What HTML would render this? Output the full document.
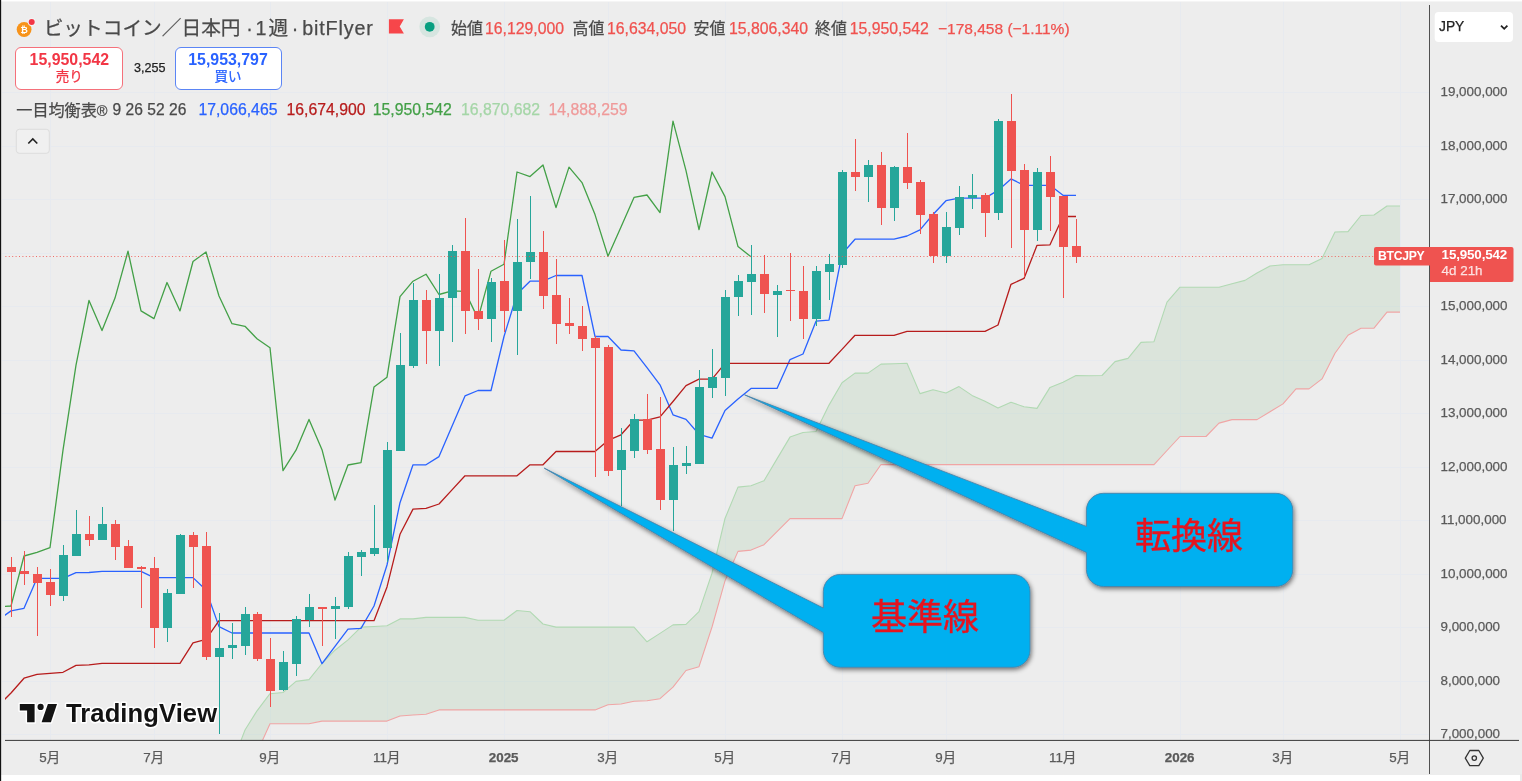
<!DOCTYPE html>
<html lang="ja"><head><meta charset="utf-8"><title>BTCJPY 一目均衡表</title>
<style>
html,body{margin:0;padding:0;background:#fff;}
#rs{position:absolute;left:1519.7px;top:774px;width:3px;height:8px;background:#e9e9e9;}
body{width:1522px;height:781px;position:relative;overflow:hidden;font-family:"Liberation Sans","Noto Sans CJK JP",sans-serif;}
#bg{position:absolute;left:0;top:1px;width:1522px;height:773.8px;background:#ededed;border-top:1px solid #f5f5f5;box-sizing:border-box;}
#lb{display:none}
svg{position:absolute;left:0;top:0;}
.t{position:absolute;white-space:nowrap;-webkit-text-stroke:0.25px currentColor;}
.box{position:absolute;border:1px solid;border-radius:6px;background:#fff;}
</style></head><body>
<div id="bg"></div><div id="rs"></div>
<svg width="1522" height="781" viewBox="0 0 1522 781">
<line x1="50.5" y1="2" x2="50.5" y2="740.4" stroke="#e7eaef" stroke-width="1"/>
<line x1="154.5" y1="2" x2="154.5" y2="740.4" stroke="#e7eaef" stroke-width="1"/>
<line x1="270.5" y1="2" x2="270.5" y2="740.4" stroke="#e7eaef" stroke-width="1"/>
<line x1="387.5" y1="2" x2="387.5" y2="740.4" stroke="#e7eaef" stroke-width="1"/>
<line x1="504.5" y1="2" x2="504.5" y2="740.4" stroke="#e7eaef" stroke-width="1"/>
<line x1="608.5" y1="2" x2="608.5" y2="740.4" stroke="#e7eaef" stroke-width="1"/>
<line x1="725.5" y1="2" x2="725.5" y2="740.4" stroke="#e7eaef" stroke-width="1"/>
<line x1="842.5" y1="2" x2="842.5" y2="740.4" stroke="#e7eaef" stroke-width="1"/>
<line x1="946.5" y1="2" x2="946.5" y2="740.4" stroke="#e7eaef" stroke-width="1"/>
<line x1="1063.5" y1="2" x2="1063.5" y2="740.4" stroke="#e7eaef" stroke-width="1"/>
<line x1="1180.5" y1="2" x2="1180.5" y2="740.4" stroke="#e7eaef" stroke-width="1"/>
<line x1="1283.5" y1="2" x2="1283.5" y2="740.4" stroke="#e7eaef" stroke-width="1"/>
<line x1="1400.5" y1="2" x2="1400.5" y2="740.4" stroke="#e7eaef" stroke-width="1"/>
<line x1="2" y1="92.5" x2="1429.5" y2="92.5" stroke="#e7eaef" stroke-width="1"/>
<line x1="2" y1="146.5" x2="1429.5" y2="146.5" stroke="#e7eaef" stroke-width="1"/>
<line x1="2" y1="199.5" x2="1429.5" y2="199.5" stroke="#e7eaef" stroke-width="1"/>
<line x1="2" y1="253.5" x2="1429.5" y2="253.5" stroke="#e7eaef" stroke-width="1"/>
<line x1="2" y1="306.5" x2="1429.5" y2="306.5" stroke="#e7eaef" stroke-width="1"/>
<line x1="2" y1="360.5" x2="1429.5" y2="360.5" stroke="#e7eaef" stroke-width="1"/>
<line x1="2" y1="413.5" x2="1429.5" y2="413.5" stroke="#e7eaef" stroke-width="1"/>
<line x1="2" y1="467.5" x2="1429.5" y2="467.5" stroke="#e7eaef" stroke-width="1"/>
<line x1="2" y1="520.5" x2="1429.5" y2="520.5" stroke="#e7eaef" stroke-width="1"/>
<line x1="2" y1="574.5" x2="1429.5" y2="574.5" stroke="#e7eaef" stroke-width="1"/>
<line x1="2" y1="627.5" x2="1429.5" y2="627.5" stroke="#e7eaef" stroke-width="1"/>
<line x1="2" y1="681.5" x2="1429.5" y2="681.5" stroke="#e7eaef" stroke-width="1"/>
<line x1="2" y1="734.5" x2="1429.5" y2="734.5" stroke="#e7eaef" stroke-width="1"/>
<clipPath id="pane"><rect x="5" y="2" width="1424.5" height="738.4"/></clipPath>
<g clip-path="url(#pane)">
<polygon points="232,764 245,730 257,710.8 270,693.7 283,692.5 296,681.4 309,679.6 322,663.5 335,650.2 348,639.9 361,627.1 374,626.5 387,625.8 400,618.9 413,618.9 426,617.4 439,617.4 452,617.4 465,617.4 478,620.2 491,620.2 504,620.2 517,610.5 530,611.7 543,624 556,627.1 569,627.1 582,627.1 595,627.1 608,627.1 621,627.1 634,627.1 647,641.8 660,633.4 673,624.9 686,624.4 699,611.6 712,573.2 725,518.5 738,487.1 751,485.8 764,480.7 777,458.9 790,437.1 803,432.5 816,431.5 829,405.1 842,382.8 855,373.1 868,373.1 881,364.1 894,363.7 907,363.3 920,393.6 933,389.7 946,393 959,386.6 972,395.4 985,401.3 998,408.1 1011,402.2 1024,406.8 1037,408.4 1050,387.4 1063,382.2 1076,375.5 1089,375.7 1102,375.5 1115,361.6 1128,358.4 1141,342.4 1154,341.7 1167,302.1 1180,287.2 1193,287.2 1206,287.2 1219,287.2 1232,283.7 1245,280.4 1257,273 1270,266 1283,264.8 1296,264.8 1309,264.8 1322,258.4 1335,232 1348,231.6 1361,215.5 1374,215 1387,206 1400,206 1400,312.1 1387,312.1 1374,328.2 1361,328.2 1348,335.2 1335,353.2 1322,378.9 1309,388.9 1296,388.9 1283,403.9 1270,411.7 1257,419.6 1245,419.6 1232,419.6 1219,423.1 1206,436.5 1193,436.5 1180,436.5 1167,450.5 1154,464.6 1141,464.6 1128,464.6 1115,464.6 1102,464.6 1089,464.6 1076,464.6 1063,464.6 1050,464.6 1037,464.6 1024,464.6 1011,464.6 998,464.6 985,464.6 972,464.6 959,464.6 946,464.6 933,464.6 920,464.6 907,464.6 894,464.6 881,464.5 868,483.2 855,485.8 842,518.6 829,518.6 816,518.6 803,518.6 790,518.6 777,531.6 764,544.7 751,550.1 738,551.4 725,580.9 712,627 699,666.7 686,670.5 673,687.2 660,698.7 647,700.8 634,701.3 621,704 608,704.8 595,709.9 582,709.9 569,709.9 556,709.9 543,709.9 530,709.9 517,709.9 504,709.9 491,709.9 478,709.9 465,709.9 452,709.9 439,709.9 426,714.2 413,715 400,716 387,721.1 374,721.1 361,721.1 348,721.1 335,721.1 322,721.1 309,723.7 296,723.7 283,723.7 270,723.7 257,752.6 245,781 232,810" fill="#43a047" fill-opacity="0.10"/>
<polyline points="232,764 245,730 257,710.8 270,693.7 283,692.5 296,681.4 309,679.6 322,663.5 335,650.2 348,639.9 361,627.1 374,626.5 387,625.8 400,618.9 413,618.9 426,617.4 439,617.4 452,617.4 465,617.4 478,620.2 491,620.2 504,620.2 517,610.5 530,611.7 543,624 556,627.1 569,627.1 582,627.1 595,627.1 608,627.1 621,627.1 634,627.1 647,641.8 660,633.4 673,624.9 686,624.4 699,611.6 712,573.2 725,518.5 738,487.1 751,485.8 764,480.7 777,458.9 790,437.1 803,432.5 816,431.5 829,405.1 842,382.8 855,373.1 868,373.1 881,364.1 894,363.7 907,363.3 920,393.6 933,389.7 946,393 959,386.6 972,395.4 985,401.3 998,408.1 1011,402.2 1024,406.8 1037,408.4 1050,387.4 1063,382.2 1076,375.5 1089,375.7 1102,375.5 1115,361.6 1128,358.4 1141,342.4 1154,341.7 1167,302.1 1180,287.2 1193,287.2 1206,287.2 1219,287.2 1232,283.7 1245,280.4 1257,273 1270,266 1283,264.8 1296,264.8 1309,264.8 1322,258.4 1335,232 1348,231.6 1361,215.5 1374,215 1387,206 1400,206" fill="none" stroke="#b1d9b3" stroke-width="1.1" stroke-linejoin="round"/>
<polyline points="232,810 245,781 257,752.6 270,723.7 283,723.7 296,723.7 309,723.7 322,721.1 335,721.1 348,721.1 361,721.1 374,721.1 387,721.1 400,716 413,715 426,714.2 439,709.9 452,709.9 465,709.9 478,709.9 491,709.9 504,709.9 517,709.9 530,709.9 543,709.9 556,709.9 569,709.9 582,709.9 595,709.9 608,704.8 621,704 634,701.3 647,700.8 660,698.7 673,687.2 686,670.5 699,666.7 712,627 725,580.9 738,551.4 751,550.1 764,544.7 777,531.6 790,518.6 803,518.6 816,518.6 829,518.6 842,518.6 855,485.8 868,483.2 881,464.5 894,464.6 907,464.6 920,464.6 933,464.6 946,464.6 959,464.6 972,464.6 985,464.6 998,464.6 1011,464.6 1024,464.6 1037,464.6 1050,464.6 1063,464.6 1076,464.6 1089,464.6 1102,464.6 1115,464.6 1128,464.6 1141,464.6 1154,464.6 1167,450.5 1180,436.5 1193,436.5 1206,436.5 1219,423.1 1232,419.6 1245,419.6 1257,419.6 1270,411.7 1283,403.9 1296,388.9 1309,388.9 1322,378.9 1335,353.2 1348,335.2 1361,328.2 1374,328.2 1387,312.1 1400,312.1" fill="none" stroke="#f0a5a5" stroke-width="1.1" stroke-linejoin="round"/>
<polyline points="-2,606.6 11,606 24,556 37,552.3 50,547.7 63,450.2 76,365.1 89,300.4 102,330.6 115,298.1 128,251.2 141,310.9 154,318.6 167,282.5 180,310.9 193,261.5 206,252 219,296 232,323.7 245,326.3 257,338.8 270,347.7 283,470.7 296,450.2 309,419.4 322,449.7 335,500.1 348,465 361,462.6 374,386.9 387,377.2 400,296.6 413,281.2 426,274.2 439,294.5 452,290.8 465,291.4 478,318.6 491,271.2 504,264.3 517,172 530,176.6 543,165 556,207.6 569,167.1 582,182.6 595,214.6 608,256.2 621,227.1 634,197.4 647,195 660,212.6 673,121.2 686,170.7 699,229.6 712,172 725,196.6 738,246.6 751,256.8" fill="none" stroke="#43a047" stroke-width="1.3" stroke-linejoin="round"/>
<polyline points="-2,620 11,610.9 24,608.3 37,578.3 50,578.3 63,578.3 76,572.7 89,572.5 102,571.4 115,571.4 128,571.4 141,571.4 154,577.6 167,577.6 180,577.6 193,577.6 206,590 219,626.6 232,633 245,633 257,633 270,633 283,633 296,633 309,633 322,663.7 335,646.3 348,629.1 361,628.4 374,606 387,565 400,502.7 413,464.8 426,464.8 439,456.6 452,426.3 465,395.9 478,390.5 491,390.5 504,336.5 517,294 530,281.2 543,281.2 556,275.5 569,275.5 582,275.5 595,336.5 608,336.5 621,350 634,350.8 647,367.7 660,384.8 673,414.8 686,419.4 699,434.3 712,438.1 725,410.5 738,398.9 751,388.4 764,388.4 777,388.4 790,359.6 803,354 816,321.2 829,320.2 842,254 855,239.2 868,239.2 881,239.2 894,239.2 907,236 920,229.9 933,214.5 946,200.7 959,198.1 972,198.1 985,198.1 998,190.4 1011,178.9 1024,185.3 1037,185.3 1050,185.3 1063,195.3 1076,195.3" fill="none" stroke="#2962ff" stroke-width="1.3" stroke-linejoin="round"/>
<polyline points="-2,706 11,693 24,678.2 37,674.4 50,673.3 63,672.3 76,665.4 89,664.9 102,663.4 115,663.4 128,663.4 141,663.4 154,663.4 167,663.4 180,663.4 193,642.8 206,639.4 219,620.7 232,620.7 245,620.7 257,620.7 270,620.7 283,620.7 296,620.7 309,620.7 322,620.7 335,620.7 348,620.7 361,620.7 374,620.7 387,586.9 400,534.3 413,509.1 426,508.3 439,504 452,489.9 465,475.8 478,475.8 491,475.8 504,475.8 517,475.8 530,464.8 543,464.8 556,451.5 569,451.5 582,451.5 595,451.5 608,440.4 621,434.8 634,420.2 647,420.2 660,416.9 673,401.5 686,385.6 699,379.2 712,379.2 725,363.3 738,363.3 751,363.3 764,363.3 777,363.3 790,363.3 803,363.3 816,363.3 829,363.3 842,349.4 855,335.3 868,335.3 881,335.3 894,335.3 907,331.4 920,331.4 933,331.4 946,331.4 959,331.4 972,331.4 985,331.4 998,325 1011,284.3 1024,278.4 1037,245.3 1050,244.8 1063,216.5 1076,216.5" fill="none" stroke="#b71c1c" stroke-width="1.3" stroke-linejoin="round"/>
<rect x="11" y="557" width="1" height="60" fill="#ef5350"/>
<rect x="7" y="567" width="9" height="5" fill="#ef5350"/>
<rect x="24" y="551" width="1" height="34" fill="#ef5350"/>
<rect x="20" y="571" width="9" height="3" fill="#ef5350"/>
<rect x="37" y="567" width="1" height="69" fill="#ef5350"/>
<rect x="33" y="574" width="9" height="9" fill="#ef5350"/>
<rect x="50" y="569" width="1" height="37" fill="#ef5350"/>
<rect x="46" y="582" width="9" height="13" fill="#ef5350"/>
<rect x="63" y="545" width="1" height="56" fill="#26a69a"/>
<rect x="59" y="555" width="9" height="41" fill="#26a69a"/>
<rect x="76" y="510" width="1" height="46" fill="#26a69a"/>
<rect x="72" y="534" width="9" height="22" fill="#26a69a"/>
<rect x="89" y="516" width="1" height="30" fill="#ef5350"/>
<rect x="85" y="534" width="9" height="6" fill="#ef5350"/>
<rect x="102" y="507" width="1" height="33" fill="#26a69a"/>
<rect x="98" y="524" width="9" height="16" fill="#26a69a"/>
<rect x="115" y="520" width="1" height="40" fill="#ef5350"/>
<rect x="111" y="524" width="9" height="23" fill="#ef5350"/>
<rect x="128" y="540" width="1" height="28" fill="#ef5350"/>
<rect x="124" y="546" width="9" height="22" fill="#ef5350"/>
<rect x="141" y="566" width="1" height="42" fill="#ef5350"/>
<rect x="137" y="567" width="9" height="2" fill="#ef5350"/>
<rect x="154" y="557" width="1" height="91" fill="#ef5350"/>
<rect x="150" y="568" width="9" height="60" fill="#ef5350"/>
<rect x="167" y="589" width="1" height="53" fill="#26a69a"/>
<rect x="163" y="593" width="9" height="35" fill="#26a69a"/>
<rect x="180" y="534" width="1" height="60" fill="#26a69a"/>
<rect x="176" y="535" width="9" height="59" fill="#26a69a"/>
<rect x="193" y="532" width="1" height="56" fill="#ef5350"/>
<rect x="189" y="535" width="9" height="12" fill="#ef5350"/>
<rect x="206" y="532" width="1" height="128" fill="#ef5350"/>
<rect x="202" y="546" width="9" height="111" fill="#ef5350"/>
<rect x="219" y="613" width="1" height="121" fill="#26a69a"/>
<rect x="215" y="648" width="9" height="9" fill="#26a69a"/>
<rect x="232" y="623" width="1" height="36" fill="#26a69a"/>
<rect x="228" y="645" width="9" height="3" fill="#26a69a"/>
<rect x="245" y="607" width="1" height="48" fill="#26a69a"/>
<rect x="241" y="614" width="9" height="32" fill="#26a69a"/>
<rect x="257" y="612" width="1" height="49" fill="#ef5350"/>
<rect x="253" y="614" width="9" height="45" fill="#ef5350"/>
<rect x="270" y="638" width="1" height="69" fill="#ef5350"/>
<rect x="266" y="659" width="9" height="32" fill="#ef5350"/>
<rect x="283" y="651" width="1" height="40" fill="#26a69a"/>
<rect x="279" y="662" width="9" height="28" fill="#26a69a"/>
<rect x="296" y="616" width="1" height="60" fill="#26a69a"/>
<rect x="292" y="619" width="9" height="45" fill="#26a69a"/>
<rect x="309" y="594" width="1" height="33" fill="#26a69a"/>
<rect x="305" y="607" width="9" height="13" fill="#26a69a"/>
<rect x="322" y="607" width="1" height="39" fill="#ef5350"/>
<rect x="318" y="607" width="9" height="2" fill="#ef5350"/>
<rect x="335" y="597" width="1" height="42" fill="#26a69a"/>
<rect x="331" y="606" width="9" height="3" fill="#26a69a"/>
<rect x="348" y="552" width="1" height="57" fill="#26a69a"/>
<rect x="344" y="556" width="9" height="51" fill="#26a69a"/>
<rect x="361" y="550" width="1" height="26" fill="#26a69a"/>
<rect x="357" y="552" width="9" height="5" fill="#26a69a"/>
<rect x="374" y="505" width="1" height="51" fill="#26a69a"/>
<rect x="370" y="548" width="9" height="6" fill="#26a69a"/>
<rect x="387" y="442" width="1" height="120" fill="#26a69a"/>
<rect x="383" y="450" width="9" height="98" fill="#26a69a"/>
<rect x="400" y="333" width="1" height="118" fill="#26a69a"/>
<rect x="396" y="365" width="9" height="86" fill="#26a69a"/>
<rect x="413" y="283" width="1" height="85" fill="#26a69a"/>
<rect x="409" y="300" width="9" height="66" fill="#26a69a"/>
<rect x="426" y="290" width="1" height="74" fill="#ef5350"/>
<rect x="422" y="300" width="9" height="31" fill="#ef5350"/>
<rect x="439" y="274" width="1" height="92" fill="#26a69a"/>
<rect x="435" y="298" width="9" height="33" fill="#26a69a"/>
<rect x="452" y="245" width="1" height="97" fill="#26a69a"/>
<rect x="448" y="251" width="9" height="47" fill="#26a69a"/>
<rect x="465" y="218" width="1" height="116" fill="#ef5350"/>
<rect x="461" y="251" width="9" height="60" fill="#ef5350"/>
<rect x="478" y="269" width="1" height="61" fill="#ef5350"/>
<rect x="474" y="311" width="9" height="8" fill="#ef5350"/>
<rect x="491" y="278" width="1" height="64" fill="#26a69a"/>
<rect x="487" y="282" width="9" height="37" fill="#26a69a"/>
<rect x="504" y="240" width="1" height="92" fill="#ef5350"/>
<rect x="500" y="281" width="9" height="30" fill="#ef5350"/>
<rect x="517" y="219" width="1" height="136" fill="#26a69a"/>
<rect x="513" y="262" width="9" height="49" fill="#26a69a"/>
<rect x="530" y="196" width="1" height="83" fill="#26a69a"/>
<rect x="526" y="252" width="9" height="10" fill="#26a69a"/>
<rect x="543" y="231" width="1" height="78" fill="#ef5350"/>
<rect x="539" y="252" width="9" height="44" fill="#ef5350"/>
<rect x="556" y="259" width="1" height="85" fill="#ef5350"/>
<rect x="552" y="295" width="9" height="29" fill="#ef5350"/>
<rect x="569" y="298" width="1" height="36" fill="#ef5350"/>
<rect x="565" y="323" width="9" height="3" fill="#ef5350"/>
<rect x="582" y="306" width="1" height="45" fill="#ef5350"/>
<rect x="578" y="326" width="9" height="13" fill="#ef5350"/>
<rect x="595" y="336" width="1" height="141" fill="#ef5350"/>
<rect x="591" y="338" width="9" height="10" fill="#ef5350"/>
<rect x="608" y="345" width="1" height="131" fill="#ef5350"/>
<rect x="604" y="347" width="9" height="124" fill="#ef5350"/>
<rect x="621" y="428" width="1" height="78" fill="#26a69a"/>
<rect x="617" y="450" width="9" height="20" fill="#26a69a"/>
<rect x="634" y="414" width="1" height="44" fill="#26a69a"/>
<rect x="630" y="419" width="9" height="32" fill="#26a69a"/>
<rect x="647" y="394" width="1" height="60" fill="#ef5350"/>
<rect x="643" y="419" width="9" height="31" fill="#ef5350"/>
<rect x="660" y="397" width="1" height="113" fill="#ef5350"/>
<rect x="656" y="449" width="9" height="51" fill="#ef5350"/>
<rect x="673" y="447" width="1" height="84" fill="#26a69a"/>
<rect x="669" y="465" width="9" height="35" fill="#26a69a"/>
<rect x="686" y="446" width="1" height="28" fill="#26a69a"/>
<rect x="682" y="463" width="9" height="3" fill="#26a69a"/>
<rect x="699" y="370" width="1" height="94" fill="#26a69a"/>
<rect x="695" y="387" width="9" height="77" fill="#26a69a"/>
<rect x="712" y="349" width="1" height="49" fill="#26a69a"/>
<rect x="708" y="377" width="9" height="11" fill="#26a69a"/>
<rect x="725" y="290" width="1" height="106" fill="#26a69a"/>
<rect x="721" y="297" width="9" height="81" fill="#26a69a"/>
<rect x="738" y="275" width="1" height="41" fill="#26a69a"/>
<rect x="734" y="281" width="9" height="16" fill="#26a69a"/>
<rect x="751" y="245" width="1" height="70" fill="#26a69a"/>
<rect x="747" y="274" width="9" height="8" fill="#26a69a"/>
<rect x="764" y="255" width="1" height="58" fill="#ef5350"/>
<rect x="760" y="274" width="9" height="20" fill="#ef5350"/>
<rect x="777" y="285" width="1" height="52" fill="#26a69a"/>
<rect x="773" y="291" width="9" height="4" fill="#26a69a"/>
<rect x="790" y="253" width="1" height="68" fill="#ef5350"/>
<rect x="786" y="290" width="9" height="1" fill="#ef5350"/>
<rect x="803" y="266" width="1" height="73" fill="#ef5350"/>
<rect x="799" y="291" width="9" height="28" fill="#ef5350"/>
<rect x="816" y="266" width="1" height="60" fill="#26a69a"/>
<rect x="812" y="271" width="9" height="48" fill="#26a69a"/>
<rect x="829" y="254" width="1" height="46" fill="#26a69a"/>
<rect x="825" y="264" width="9" height="8" fill="#26a69a"/>
<rect x="842" y="170" width="1" height="98" fill="#26a69a"/>
<rect x="838" y="172" width="9" height="93" fill="#26a69a"/>
<rect x="855" y="139" width="1" height="52" fill="#ef5350"/>
<rect x="851" y="172" width="9" height="5" fill="#ef5350"/>
<rect x="868" y="160" width="1" height="42" fill="#26a69a"/>
<rect x="864" y="165" width="9" height="12" fill="#26a69a"/>
<rect x="881" y="152" width="1" height="73" fill="#ef5350"/>
<rect x="877" y="165" width="9" height="43" fill="#ef5350"/>
<rect x="894" y="166" width="1" height="55" fill="#26a69a"/>
<rect x="890" y="167" width="9" height="41" fill="#26a69a"/>
<rect x="907" y="133" width="1" height="56" fill="#ef5350"/>
<rect x="903" y="167" width="9" height="16" fill="#ef5350"/>
<rect x="920" y="180" width="1" height="54" fill="#ef5350"/>
<rect x="916" y="182" width="9" height="33" fill="#ef5350"/>
<rect x="933" y="212" width="1" height="51" fill="#ef5350"/>
<rect x="929" y="214" width="9" height="42" fill="#ef5350"/>
<rect x="946" y="212" width="1" height="51" fill="#26a69a"/>
<rect x="942" y="227" width="9" height="29" fill="#26a69a"/>
<rect x="959" y="186" width="1" height="49" fill="#26a69a"/>
<rect x="955" y="197" width="9" height="31" fill="#26a69a"/>
<rect x="972" y="174" width="1" height="35" fill="#26a69a"/>
<rect x="968" y="195" width="9" height="3" fill="#26a69a"/>
<rect x="985" y="193" width="1" height="44" fill="#ef5350"/>
<rect x="981" y="195" width="9" height="18" fill="#ef5350"/>
<rect x="998" y="119" width="1" height="101" fill="#26a69a"/>
<rect x="994" y="121" width="9" height="92" fill="#26a69a"/>
<rect x="1011" y="94" width="1" height="154" fill="#ef5350"/>
<rect x="1007" y="121" width="9" height="50" fill="#ef5350"/>
<rect x="1024" y="164" width="1" height="113" fill="#ef5350"/>
<rect x="1020" y="170" width="9" height="60" fill="#ef5350"/>
<rect x="1037" y="168" width="1" height="73" fill="#26a69a"/>
<rect x="1033" y="172" width="9" height="58" fill="#26a69a"/>
<rect x="1050" y="156" width="1" height="75" fill="#ef5350"/>
<rect x="1046" y="172" width="9" height="25" fill="#ef5350"/>
<rect x="1063" y="196" width="1" height="102" fill="#ef5350"/>
<rect x="1059" y="196" width="9" height="51" fill="#ef5350"/>
<rect x="1076" y="219" width="1" height="44" fill="#ef5350"/>
<rect x="1072" y="246" width="9" height="11" fill="#ef5350"/>
<line x1="2" y1="256.5" x2="1429.5" y2="256.5" stroke="#ef5350" stroke-width="1" stroke-dasharray="1 2.4" stroke-opacity="0.85"/>
</g>
<line x1="1429.5" y1="5" x2="1429.5" y2="774" stroke="#505050" stroke-width="1"/>
<line x1="5" y1="740.4" x2="1519" y2="740.4" stroke="#383838" stroke-width="1"/>
<defs><filter id="sh" x="-10%" y="-20%" width="120%" height="150%"><feGaussianBlur in="SourceAlpha" stdDeviation="2.6"/><feOffset dx="0.5" dy="1.5" result="b"/><feComponentTransfer><feFuncA type="linear" slope="0.55"/></feComponentTransfer><feMerge><feMergeNode/><feMergeNode in="SourceGraphic"/></feMerge></filter></defs>
<path d="M840.3,574.4 H1013 A17,17 0 0 1 1030,591.4 V650.3 A17,17 0 0 1 1013,667.3 H840.3 A17,17 0 0 1 823.3,650.3 V632.6 L544.2,468.1 L823.3,608 V591.4 A17,17 0 0 1 840.3,574.4 Z" fill="#00b0f0" stroke="#4a7fa5" stroke-width="0.8" filter="url(#sh)"/>
<path d="M1103.4,493.3 H1275.8 A17,17 0 0 1 1292.8,510.3 V569.5 A17,17 0 0 1 1275.8,586.5 H1103.4 A17,17 0 0 1 1086.4,569.5 V552.5 L744.5,394.8 L1086.4,526.4 V510.3 A17,17 0 0 1 1103.4,493.3 Z" fill="#00b0f0" stroke="#4a7fa5" stroke-width="0.8" filter="url(#sh)"/>
<text x="925.1" y="629.6" text-anchor="middle" font-family="'Liberation Sans','Noto Sans CJK JP',sans-serif" font-size="36" stroke="#e5141f" stroke-width="0.35" fill="#e5141f">基準線</text>
<text x="1188.9" y="549" text-anchor="middle" font-family="'Liberation Sans','Noto Sans CJK JP',sans-serif" font-size="36" stroke="#e5141f" stroke-width="0.35" fill="#e5141f">転換線</text>
<g stroke="#fff" stroke-width="3" stroke-linejoin="round" paint-order="stroke" fill="#131313"><path d="M19.8,704 H34.6 V722.2 H27.1 V710.6 H19.8 Z"/><circle cx="40.6" cy="706.9" r="3.1"/><path d="M47.9,704 H57 L50.9,722.2 H41.6 Z"/><text x="66" y="722.2" font-family="'Liberation Sans',sans-serif" font-weight="700" font-size="25.6" letter-spacing="0.08">TradingView</text></g>
<circle cx="24.1" cy="29.5" r="7.4" fill="#f7931a"/>
<text x="24.1" y="32.9" text-anchor="middle" font-family="'Liberation Sans',sans-serif" font-weight="700" font-size="9" fill="#fff">₿</text>
<circle cx="31.7" cy="22" r="3.9" fill="#f4f4f4"/><circle cx="31.7" cy="22" r="3" fill="#f23645"/>
<path d="M388.9,19.2 H403.9 L399.7,26.6 L403.9,33.6 H388.9 Z" fill="#f7464a"/>
<circle cx="429.7" cy="26.8" r="10.4" fill="#d6e5e0"/><circle cx="429.7" cy="26.8" r="4.9" fill="#089f80"/>
<rect x="16.3" y="129.3" width="33" height="24" rx="3" fill="#f0f0f0" stroke="#dcdcdc" stroke-width="1"/>
<path d="M28.3,143.5 L32.8,139 L37.3,143.5" fill="none" stroke="#222" stroke-width="1.6"/>
<rect x="1434.7" y="11.9" width="78.3" height="30" rx="4" fill="#fff"/>
<path d="M1501,25.6 L1504.2,28.8 L1507.4,25.6" fill="none" stroke="#222" stroke-width="1.8"/>
<polygon points="1483.3,758.1 1478.8,765.7 1469.8,765.7 1465.3,758.1 1469.8,750.5 1478.8,750.5" fill="none" stroke="#333" stroke-width="1.3" stroke-linejoin="round"/>
<circle cx="1474.3" cy="758.1" r="2.2" fill="none" stroke="#333" stroke-width="1.3"/>
<path d="M1376,247 H1430 V265.5 H1376 A2,2 0 0 1 1374,263.5 V249 A2,2 0 0 1 1376,247 Z" fill="#ef5350"/>
<path d="M1430,246.9 H1511.5 A2,2 0 0 1 1513.5,248.9 V279.9 A2,2 0 0 1 1511.5,281.9 H1430 Z" fill="#ef5350"/>
<rect x="0" y="0" width="1" height="781" fill="#111"/><rect x="1" y="0" width="1" height="781" fill="#111" fill-opacity="0.15"/>
</svg>
<div class="t" style="top:15.5px;font-size:19.7px;line-height:24px;color:#4a4a4a;left:43.7px;">ビットコイン／日本円<span style="margin:0 2.7px 0 5.7px">·</span><span style="margin-right:2px">1</span>週<span style="margin:0 3.9px 0 3.7px">·</span><span style="letter-spacing:0.85px">bitFlyer</span></div><div class="t" style="top:18.5px;font-size:15.9px;line-height:20px;color:#4a4a4a;left:451px;">始値</div><div class="t" style="top:18.5px;font-size:15.8px;line-height:20px;color:#f0524f;left:485px;">16,129,000</div><div class="t" style="top:18.5px;font-size:15.9px;line-height:20px;color:#4a4a4a;left:572.5px;">高値</div><div class="t" style="top:18.5px;font-size:15.8px;line-height:20px;color:#f0524f;left:607px;">16,634,050</div><div class="t" style="top:18.5px;font-size:15.9px;line-height:20px;color:#4a4a4a;left:693.6px;">安値</div><div class="t" style="top:18.5px;font-size:15.8px;line-height:20px;color:#f0524f;left:729px;">15,806,340</div><div class="t" style="top:18.5px;font-size:15.9px;line-height:20px;color:#4a4a4a;left:815px;">終値</div><div class="t" style="top:18.5px;font-size:15.8px;line-height:20px;color:#f0524f;left:849.7px;">15,950,542</div><div class="t" style="top:18.5px;font-size:15.5px;line-height:20px;color:#f0524f;left:938px;">−178,458 (−1.11%)</div><div class="box" style="left:15.4px;top:47.3px;width:105.8px;height:40.4px;border-color:#f5707a"></div><div class="box" style="left:174.5px;top:47.3px;width:105px;height:40.4px;border-color:#5b85f5"></div><div class="t" style="top:49.9px;font-size:15.9px;line-height:20px;color:#f23645;font-weight:700;-webkit-text-stroke:0;left:-80.7px;width:300px;text-align:center;">15,950,542</div><div class="t" style="top:67px;font-size:13.5px;line-height:20px;color:#f23645;left:-80.7px;width:300px;text-align:center;">売り</div><div class="t" style="top:49.9px;font-size:15.9px;line-height:20px;color:#2962ff;font-weight:700;-webkit-text-stroke:0;left:78px;width:300px;text-align:center;">15,953,797</div><div class="t" style="top:67px;font-size:13.5px;line-height:20px;color:#2962ff;left:78px;width:300px;text-align:center;">買い</div><div class="t" style="top:57.8px;font-size:12.6px;line-height:20px;color:#222;left:134px;">3,255</div><div class="t" style="top:100.2px;font-size:16.1px;line-height:20px;color:#4a4a4a;left:16.3px;">一目均衡表<span style="font-size:14.5px">®</span></div><div class="t" style="top:100.2px;font-size:15.6px;line-height:20px;color:#4a4a4a;left:112.6px;">9 26 52 26</div><div class="t" style="top:100.2px;font-size:15.8px;line-height:20px;color:#2962ff;left:198.4px;">17,066,465</div><div class="t" style="top:100.2px;font-size:15.8px;line-height:20px;color:#b71c1c;left:286.5px;">16,674,900</div><div class="t" style="top:100.2px;font-size:15.8px;line-height:20px;color:#43a047;left:372.8px;">15,950,542</div><div class="t" style="top:100.2px;font-size:15.8px;line-height:20px;color:#a5d6a7;left:461px;">16,870,682</div><div class="t" style="top:100.2px;font-size:15.8px;line-height:20px;color:#ef9a9a;left:548.5px;">14,888,259</div><div class="t" style="top:17px;font-size:13.8px;line-height:20px;color:#222;left:1439px;">JPY</div><div class="t" style="top:82.2px;font-size:13.4px;line-height:20px;color:#5a5a5a;left:1440.5px;">19,000,000</div><div class="t" style="top:135.7px;font-size:13.4px;line-height:20px;color:#5a5a5a;left:1440.5px;">18,000,000</div><div class="t" style="top:189.2px;font-size:13.4px;line-height:20px;color:#5a5a5a;left:1440.5px;">17,000,000</div><div class="t" style="top:296.2px;font-size:13.4px;line-height:20px;color:#5a5a5a;left:1440.5px;">15,000,000</div><div class="t" style="top:349.7px;font-size:13.4px;line-height:20px;color:#5a5a5a;left:1440.5px;">14,000,000</div><div class="t" style="top:403.2px;font-size:13.4px;line-height:20px;color:#5a5a5a;left:1440.5px;">13,000,000</div><div class="t" style="top:456.7px;font-size:13.4px;line-height:20px;color:#5a5a5a;left:1440.5px;">12,000,000</div><div class="t" style="top:510.2px;font-size:13.4px;line-height:20px;color:#5a5a5a;left:1440.5px;">11,000,000</div><div class="t" style="top:563.7px;font-size:13.4px;line-height:20px;color:#5a5a5a;left:1440.5px;">10,000,000</div><div class="t" style="top:617.2px;font-size:13.4px;line-height:20px;color:#5a5a5a;left:1440.5px;">9,000,000</div><div class="t" style="top:670.7px;font-size:13.4px;line-height:20px;color:#5a5a5a;left:1440.5px;">8,000,000</div><div class="t" style="top:724.2px;font-size:13.4px;line-height:20px;color:#5a5a5a;left:1440.5px;">7,000,000</div><div class="t" style="top:245.2px;font-size:13.4px;line-height:20px;color:#fff;font-weight:700;-webkit-text-stroke:0;letter-spacing:-0.15px;left:1441.6px;">15,950,542</div><div class="t" style="top:261.3px;font-size:13.4px;line-height:20px;color:rgba(255,255,255,0.78);left:1441.6px;">4d 21h</div><div class="t" style="top:246.4px;font-size:12.2px;line-height:20px;color:#fff;font-weight:700;-webkit-text-stroke:0;letter-spacing:-0.3px;left:1378px;">BTCJPY</div><div class="t" style="top:747.8px;font-size:13.4px;line-height:20px;color:#5a5a5a;left:-100.3px;width:300px;text-align:center;">5月</div><div class="t" style="top:747.8px;font-size:13.4px;line-height:20px;color:#5a5a5a;left:3.7px;width:300px;text-align:center;">7月</div><div class="t" style="top:747.8px;font-size:13.4px;line-height:20px;color:#5a5a5a;left:119.7px;width:300px;text-align:center;">9月</div><div class="t" style="top:747.8px;font-size:13.4px;line-height:20px;color:#5a5a5a;left:236.7px;width:300px;text-align:center;">11月</div><div class="t" style="top:747.8px;font-size:13.4px;line-height:20px;color:#5a5a5a;left:353.7px;width:300px;text-align:center;"><b>2025</b></div><div class="t" style="top:747.8px;font-size:13.4px;line-height:20px;color:#5a5a5a;left:457.7px;width:300px;text-align:center;">3月</div><div class="t" style="top:747.8px;font-size:13.4px;line-height:20px;color:#5a5a5a;left:574.7px;width:300px;text-align:center;">5月</div><div class="t" style="top:747.8px;font-size:13.4px;line-height:20px;color:#5a5a5a;left:691.7px;width:300px;text-align:center;">7月</div><div class="t" style="top:747.8px;font-size:13.4px;line-height:20px;color:#5a5a5a;left:795.7px;width:300px;text-align:center;">9月</div><div class="t" style="top:747.8px;font-size:13.4px;line-height:20px;color:#5a5a5a;left:912.7px;width:300px;text-align:center;">11月</div><div class="t" style="top:747.8px;font-size:13.4px;line-height:20px;color:#5a5a5a;left:1029.7px;width:300px;text-align:center;"><b>2026</b></div><div class="t" style="top:747.8px;font-size:13.4px;line-height:20px;color:#5a5a5a;left:1132.7px;width:300px;text-align:center;">3月</div><div class="t" style="top:747.8px;font-size:13.4px;line-height:20px;color:#5a5a5a;left:1249.7px;width:300px;text-align:center;">5月</div>
</body></html>
